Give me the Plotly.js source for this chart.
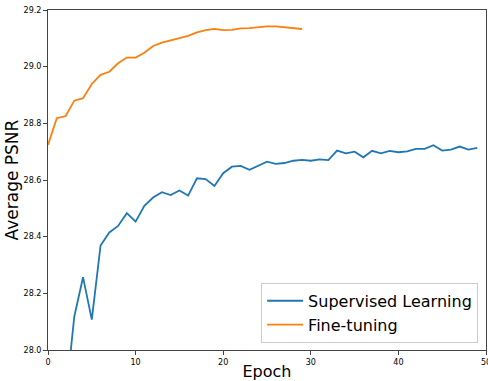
<!DOCTYPE html>
<html>
<head>
<meta charset="utf-8">
<script src="https://cdn.plot.ly/plotly-3.0.1.min.js"></script>
<style>html,body{margin:0;padding:0;background:#fff;} #chart{width:488px;height:381px;}</style>
</head>
<body>
<div id="chart"></div>
<script>
const supervisedEpochs = [0,1,2,3,4,5,6,7,8,9,10,11,12,13,14,15,16,17,18,19,20,21,22,23,24,25,26,27,28,29,30,31,32,33,34,35,36,37,38,39,40,41,42,43,44,45,46,47,48,49];
const supervisedPSNR = [27.40,27.62,27.82,28.118,28.257,28.107,28.369,28.415,28.438,28.483,28.453,28.509,28.538,28.557,28.547,28.563,28.545,28.606,28.603,28.579,28.624,28.647,28.650,28.636,28.651,28.665,28.657,28.660,28.668,28.671,28.668,28.673,28.670,28.704,28.694,28.700,28.680,28.703,28.694,28.703,28.698,28.701,28.710,28.710,28.723,28.704,28.707,28.718,28.707,28.713];
const finetuneEpochs = [0,1,2,3,4,5,6,7,8,9,10,11,12,13,14,15,16,17,18,19,20,21,22,23,24,25,26,27,28,29];
const finetunePSNR = [28.724,28.818,28.825,28.880,28.889,28.939,28.971,28.982,29.012,29.032,29.032,29.049,29.073,29.085,29.093,29.102,29.109,29.121,29.129,29.133,29.129,29.130,29.135,29.136,29.139,29.142,29.142,29.139,29.134,29.133];
const seriesNames = ["Supervised Learning","Fine-tuning"];
const xTicks = [0,10,20,30,40,50];
const yTicks = [28.0,28.2,28.4,28.6,28.8,29.0,29.2];

const traces = [
  {x: supervisedEpochs, y: supervisedPSNR, name: seriesNames[0], mode: 'lines', type: 'scatter',
   line: {color: '#1f77b4', width: 1.8}},
  {x: finetuneEpochs, y: finetunePSNR, name: seriesNames[1], mode: 'lines', type: 'scatter',
   line: {color: '#ff7f0e', width: 1.8}}
];

const axisCommon = {
  showgrid: false, zeroline: false, showline: true, mirror: true,
  linecolor: '#444', linewidth: 1, ticks: 'outside', ticklen: 4, tickcolor: '#444',
  ticklabeloverflow: 'allow',
  tickfont: {family: 'DejaVu Sans', size: 8, color: '#000'}
};

const layout = {
  width: 488, height: 381,
  margin: {l: 48, r: 2, t: 10, b: 31},
  paper_bgcolor: '#fff', plot_bgcolor: '#fff',
  showlegend: true,
  xaxis: Object.assign({}, axisCommon, {
    range: [0, 50], tickvals: xTicks, ticktext: xTicks.map(String),
    title: {text: 'Epoch', font: {family: 'DejaVu Sans', size: 16, color: '#000'}, standoff: 6}
  }),
  yaxis: Object.assign({}, axisCommon, {
    range: [28.0, 29.2], tickvals: yTicks, ticktext: yTicks.map(v => v.toFixed(1)),
    title: {text: 'Average PSNR', font: {family: 'DejaVu Sans', size: 17, color: '#000'}, standoff: 0}
  }),
  legend: {
    x: 0.982, y: 0.021, xanchor: 'right', yanchor: 'bottom',
    bgcolor: 'rgba(255,255,255,0.85)', bordercolor: '#ccc', borderwidth: 1,
    itemwidth: 36,
    font: {family: 'DejaVu Sans', size: 16, color: '#000'}
  }
};

Plotly.newPlot('chart', traces, layout, {displayModeBar: false, staticPlot: true});
</script>
</body>
</html>
